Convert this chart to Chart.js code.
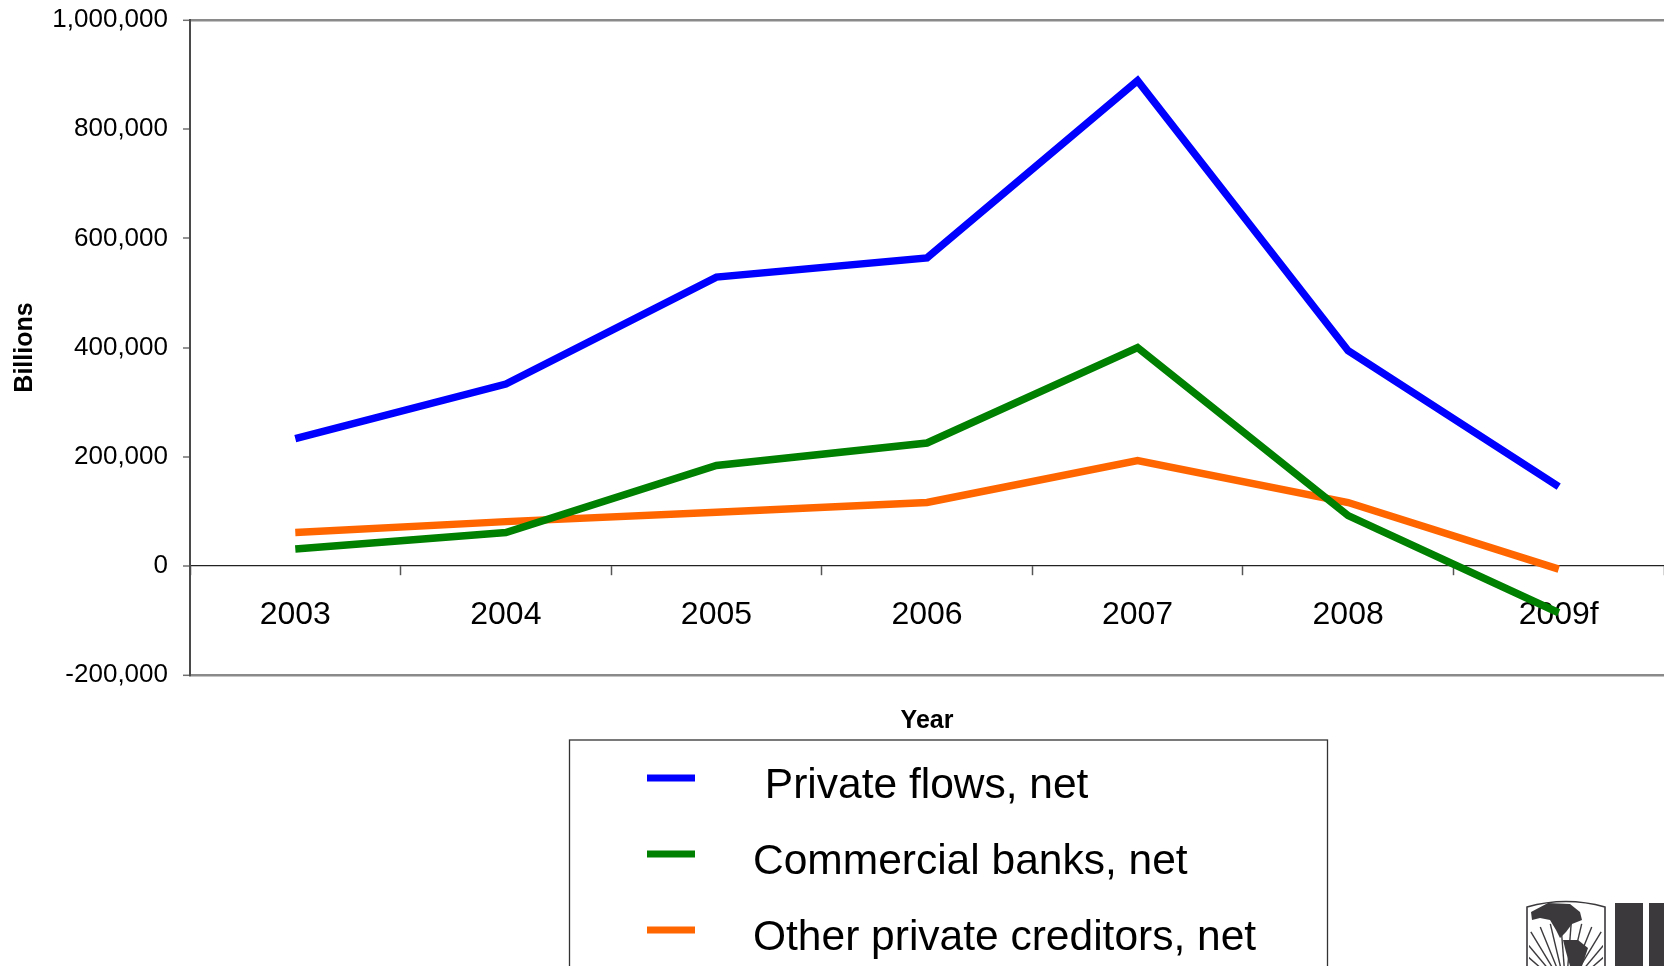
<!DOCTYPE html>
<html>
<head>
<meta charset="utf-8">
<script src="https://cdn.jsdelivr.net/npm/chart.js@4/dist/chart.umd.min.js"></script>
<style>
  html, body { margin: 0; padding: 0; background: #fff; overflow: hidden; }
  canvas { display: block; }
</style>
</head>
<body>
<canvas id="c" width="1664" height="966"></canvas>
<script>
// ---- data ----
const years = ['2003', '2004', '2005', '2006', '2007', '2008', '2009f'];
const privateFlows = [233000, 333000, 529000, 564000, 889000, 394000, 145000];
const commercialBanks = [31000, 61000, 184000, 225000, 400000, 92000, -86000];
const otherCreditors = [61000, 81000, 98000, 116000, 193000, 116000, -6000];
const seriesNames = [' Private flows, net', 'Commercial banks, net', 'Other private creditors, net'];
const yTicks = [-200000, 0, 200000, 400000, 600000, 800000, 1000000];

const FONT = "'Liberation Sans', Arial, Helvetica, sans-serif";
Chart.defaults.font.family = FONT;
Chart.defaults.color = '#000';

const legendBox = {
  id: 'legendBox',
  afterDraw(chart) {
    const ctx = chart.ctx;
    ctx.save();
    ctx.strokeStyle = '#333';
    ctx.lineWidth = 1.3;
    ctx.strokeRect(569.5, 740, 758, 300);
    ctx.font = '42.5px ' + FONT;
    ctx.textBaseline = 'alphabetic';
    ctx.textAlign = 'left';
    chart.data.datasets.forEach((ds, i) => {
      const y = 778 + i * 76;
      ctx.fillStyle = ds.borderColor;
      ctx.fillRect(647, y - 3.5, 48, 7);
      ctx.fillStyle = '#000';
      ctx.fillText(ds.label, 753, y + 20);
    });
    // logo (partial, bottom-right)
    const g = '#3b393c';
    ctx.strokeStyle = g;
    ctx.fillStyle = g;
    ctx.lineWidth = 1.6;
    ctx.beginPath();
    ctx.moveTo(1527, 970);
    ctx.lineTo(1527, 907);
    ctx.quadraticCurveTo(1566, 896, 1605, 907);
    ctx.lineTo(1605, 970);
    ctx.stroke();
    ctx.save();
    ctx.beginPath();
    ctx.rect(1529, 900, 74, 70);
    ctx.clip();
    // rays
    ctx.lineWidth = 1.4;
    for (let k = 0; k < 18; k++) {
      const a = Math.PI * (0.08 + 0.84 * k / 17);
      const cx = 1566, cy = 990;
      ctx.beginPath();
      ctx.moveTo(cx - Math.cos(a) * 20, cy - Math.sin(a) * 20);
      ctx.lineTo(cx - Math.cos(a) * 68, cy - Math.sin(a) * 68);
      ctx.stroke();
    }
    // continents
    ctx.beginPath();
    ctx.moveTo(1531, 912); ctx.lineTo(1548, 903); ctx.lineTo(1570, 904);
    ctx.lineTo(1580, 912); ctx.lineTo(1582, 920); ctx.lineTo(1572, 924);
    ctx.lineTo(1566, 932); ctx.lineTo(1560, 938); ctx.lineTo(1556, 930);
    ctx.lineTo(1550, 920); ctx.lineTo(1540, 918); ctx.lineTo(1532, 920);
    ctx.closePath(); ctx.fill();
    ctx.beginPath();
    ctx.moveTo(1563, 940); ctx.lineTo(1578, 940); ctx.lineTo(1588, 948);
    ctx.lineTo(1582, 966); ctx.lineTo(1570, 966); ctx.lineTo(1566, 952);
    ctx.closePath(); ctx.fill();
    ctx.restore();
    ctx.fillRect(1615, 903, 28, 63);
    ctx.fillRect(1649, 903, 15, 63);
    ctx.restore();
  }
};

new Chart(document.getElementById('c'), {
  type: 'line',
  data: {
    labels: years,
    datasets: [
      { label: seriesNames[0], data: privateFlows, borderColor: '#0000ff' },
      { label: seriesNames[1], data: commercialBanks, borderColor: '#008000' },
      { label: seriesNames[2], data: otherCreditors, borderColor: '#ff6600' }
    ]
  },
  options: {
    responsive: false,
    animation: false,
    events: [],
    layout: { padding: { left: 0, top: 20, right: 0, bottom: 291 } },
    elements: {
      line: { borderWidth: 7.5, tension: 0, fill: false, borderCapStyle: 'butt', borderJoinStyle: 'miter' },
      point: { radius: 0, hoverRadius: 0 }
    },
    plugins: { legend: { display: false }, tooltip: { enabled: false } },
    scales: {
      x: {
        type: 'category',
        position: { y: 0 },
        offset: true,
        grid: {
          offset: true,
          drawOnChartArea: false,
          drawTicks: true,
          tickLength: 9,
          tickColor: '#555',
          tickWidth: 1.5,
          color: '#555'
        },
        border: { display: true, color: '#222', width: 1.2 },
        ticks: { font: { size: 32 }, color: '#000', padding: 21, maxRotation: 0, autoSkip: false },
        title: { display: true, text: 'Year', font: { size: 25, weight: 'bold' }, color: '#000', padding: { top: 4, bottom: 4 } },
        afterFit(scale) { scale.height = 174; scale.paddingLeft = 0; scale.paddingRight = 0; }
      },
      y: {
        position: 'left',
        min: -200000,
        max: 1000000,
        afterBuildTicks(scale) { scale.ticks = yTicks.map(v => ({ value: v })); },
        grid: {
          drawOnChartArea: true,
          drawTicks: true,
          tickLength: 7,
          tickColor: '#707070',
          tickWidth: 1.5,
          color: (c) => (c.tick && (c.tick.value === yTicks[0] || c.tick.value === yTicks[yTicks.length - 1])) ? '#8a8a8a' : 'rgba(0,0,0,0)',
          lineWidth: (c) => (c.tick && (c.tick.value === yTicks[0] || c.tick.value === yTicks[yTicks.length - 1])) ? 2.6 : 0
        },
        border: { display: true, color: '#4a4a4a', width: 2 },
        ticks: {
          font: { size: 26 },
          color: '#000',
          padding: 15,
          callback: (v) => Number(v).toLocaleString('en-US')
        },
        title: { display: true, text: 'Billions', font: { size: 25, weight: 'bold' }, color: '#000', padding: { top: 10, bottom: 0 } },
        afterFit(scale) { scale.width = 190; scale.paddingTop = 0; scale.paddingBottom = 0; }
      }
    }
  },
  plugins: [legendBox]
});
</script>
</body>
</html>
